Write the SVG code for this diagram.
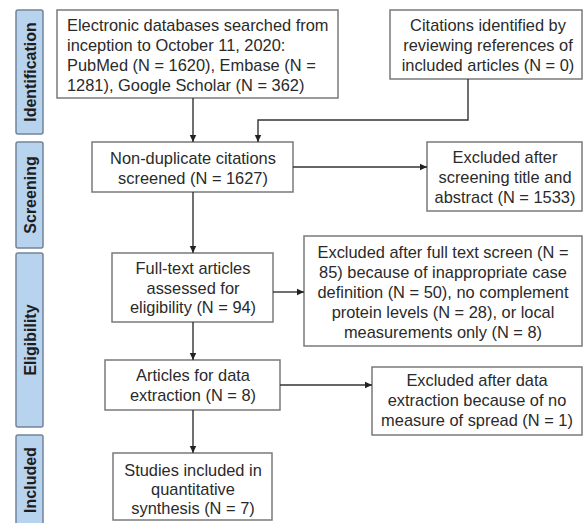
<svg xmlns="http://www.w3.org/2000/svg" width="584" height="523" viewBox="0 0 584 523">
<defs>
<style>
.bg{fill:#ffffff}
.side rect{fill:#b8d3ee;stroke:#71849a;stroke-width:1.5}
.side text{font-family:"Liberation Sans",Arial,sans-serif;font-size:16px;font-weight:bold;fill:#1e1e1e;text-anchor:middle}
.box rect{fill:#ffffff;stroke:#7a7a7a;stroke-width:1.5}
.box text{font-family:"Liberation Sans",Arial,sans-serif;font-size:16.4px;fill:#2a2a2a;text-anchor:middle}
.box text.left{text-anchor:start}
.conn path{fill:none;stroke:#333333;stroke-width:1.4}
</style>
<marker id="arr" markerWidth="8" markerHeight="8" refX="7" refY="4" orient="auto" markerUnits="userSpaceOnUse">
<path d="M0,0.8 L7,4 L0,7.2 Z" fill="#222222"/>
</marker>
</defs>
<rect class="bg" x="0" y="0" width="584" height="523"/>

<g id="side-identification" class="side">
<rect x="16" y="10" width="27" height="124" rx="2"/>
<text transform="translate(35.5,72) rotate(-90)">Identification</text>
</g>
<g id="side-screening" class="side">
<rect x="16" y="142" width="27" height="106" rx="2"/>
<text transform="translate(35.5,195) rotate(-90)">Screening</text>
</g>
<g id="side-eligibility" class="side">
<rect x="16" y="253" width="27" height="174" rx="2"/>
<text transform="translate(35.5,340) rotate(-90)">Eligibility</text>
</g>
<g id="side-included" class="side">
<rect x="16" y="435" width="27" height="92" rx="2"/>
<text transform="translate(35.5,480) rotate(-90)">Included</text>
</g>

<g id="databases" class="box">
<rect x="57" y="10" width="281" height="88"/>
<text class="left" x="67" y="31">Electronic databases searched from</text>
<text class="left" x="67" y="51">inception to October 11, 2020:</text>
<text class="left" x="67" y="71">PubMed (N = 1620), Embase (N =</text>
<text class="left" x="67" y="91">1281), Google Scholar (N = 362)</text>
</g>

<g id="references" class="box">
<rect x="390" y="10" width="192" height="69"/>
<text x="488" y="31">Citations identified by</text>
<text x="488" y="51">reviewing references of</text>
<text x="488" y="71">included articles (N = 0)</text>
</g>

<g id="screened" class="box">
<rect x="92" y="142" width="201" height="50"/>
<text x="193" y="164">Non-duplicate citations</text>
<text x="193" y="184">screened (N = 1627)</text>
</g>

<g id="excluded-screening" class="box">
<rect x="427" y="142" width="155" height="69"/>
<text x="505" y="163">Excluded after</text>
<text x="505" y="183">screening title and</text>
<text x="505" y="203">abstract (N = 1533)</text>
</g>

<g id="fulltext" class="box">
<rect x="112" y="253" width="161" height="69"/>
<text x="193" y="274">Full-text articles</text>
<text x="193" y="293.5">assessed for</text>
<text x="193" y="313">eligibility (N = 94)</text>
</g>

<g id="excluded-fulltext" class="box">
<rect x="304" y="236" width="278" height="110"/>
<text x="443" y="258">Excluded after full text screen (N =</text>
<text x="443" y="278">85) because of inappropriate case</text>
<text x="443" y="298">definition (N = 50), no complement</text>
<text x="443" y="318">protein levels (N = 28), or local</text>
<text x="443" y="338">measurements only (N = 8)</text>
</g>

<g id="extraction" class="box">
<rect x="105" y="360" width="175" height="50"/>
<text x="193" y="381">Articles for data</text>
<text x="193" y="401">extraction (N = 8)</text>
</g>

<g id="excluded-extraction" class="box">
<rect x="372" y="367" width="210" height="68"/>
<text x="477" y="386">Excluded after data</text>
<text x="477" y="406">extraction because of no</text>
<text x="477" y="426">measure of spread (N = 1)</text>
</g>

<g id="included" class="box">
<rect x="113" y="453" width="159" height="67"/>
<text x="193" y="476">Studies included in</text>
<text x="193" y="495">quantitative</text>
<text x="193" y="514">synthesis (N = 7)</text>
</g>

<g id="connectors" class="conn">
<path d="M193,98 V142" marker-end="url(#arr)"/>
<path d="M468,79 V120 H258 V142" marker-end="url(#arr)"/>
<path d="M293,167 H427" marker-end="url(#arr)"/>
<path d="M193,192 V253" marker-end="url(#arr)"/>
<path d="M273,292 H304" marker-end="url(#arr)"/>
<path d="M193,322 V360" marker-end="url(#arr)"/>
<path d="M280,385 H372" marker-end="url(#arr)"/>
<path d="M193,410 V453" marker-end="url(#arr)"/>
</g>
</svg>
